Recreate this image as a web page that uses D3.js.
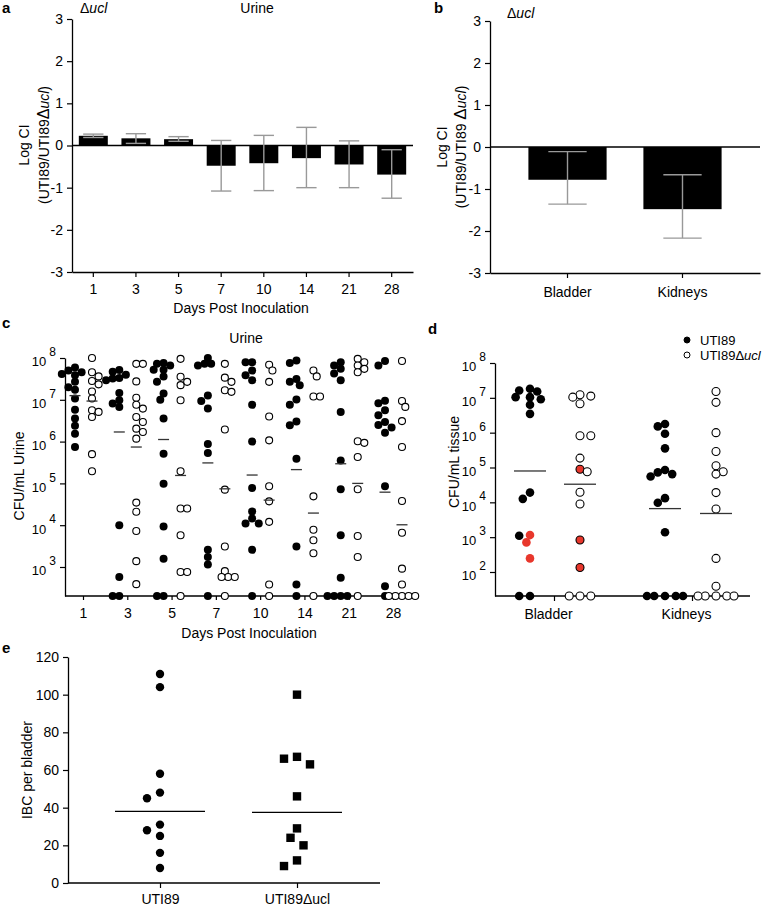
<!DOCTYPE html>
<html><head><meta charset="utf-8">
<script src="https://cdn.jsdelivr.net/npm/d3@7"></script>
<style>
body{margin:0;background:#fff;}
svg{display:block;font-family:"Liberation Sans",Arial,Helvetica,sans-serif;}
</style></head><body>
<svg id="fig" width="766" height="908"></svg>
<script>
// ---------- Panel a: urine competitive index ----------
const days = ["1","3","5","7","10","14","21","28"];
const urineCI = [0.23, 0.17, 0.15, -0.48, -0.42, -0.30, -0.45, -0.69];
const urineErrLow = [0.19, 0.05, 0.10, -1.08, -1.07, -1.00, -1.00, -1.25];
const urineErrHigh = [0.27, 0.28, 0.21, 0.12, 0.24, 0.43, 0.11, -0.10];
const ciTicks = [-3, -2, -1, 0, 1, 2, 3];

// ---------- Panel b: organ competitive index ----------
const organs = ["Bladder", "Kidneys"];
const organCI = [-0.78, -1.48];
const organErrLow = [-1.36, -2.17];
const organErrHigh = [-0.11, -0.66];

// ---------- Panel c: urine CFU (log10 CFU/mL), per day ----------
const urineLOD = 2.306;
const urineWT = [
  [7.77,7.70,7.66,7.62,7.59,7.43,7.30,7.24,7.03,6.76,6.55,6.38,6.19,5.87],
  [7.71,7.67,7.60,7.52,7.51,7.47,7.16,6.99,6.91,6.83,4.00,2.76,2.306,2.306],
  [7.88,7.86,7.82,7.72,7.72,7.56,7.43,7.15,7.00,6.55,5.71,4.99,3.97,3.20,2.306,2.306],
  [8.00,7.86,7.86,7.82,7.10,6.97,6.79,5.94,5.73,3.41,3.24,3.06,2.306],
  [7.90,7.90,7.70,7.59,7.47,6.88,6.00,4.89,4.33,4.16,4.04,4.04,3.41,2.306],
  [7.94,7.88,7.50,7.43,7.35,7.01,6.88,6.48,6.39,5.59,3.49,2.58,2.306],
  [7.90,7.82,7.74,7.63,7.47,6.71,5.55,4.86,3.76,2.74,2.306,2.306,2.306,2.306],
  [7.93,7.82,6.98,6.92,6.75,6.63,6.47,6.40,6.34,6.21,4.93,2.54,2.306]
];
const urineMut = [
  [8.00,7.66,7.56,7.45,7.37,7.20,7.03,6.75,6.71,6.59,5.70,5.29],
  [7.86,7.86,7.44,7.05,6.88,6.79,6.59,6.47,6.31,6.23,6.07,4.54,4.32,3.86,3.14,2.59],
  [7.98,7.55,7.43,7.35,6.99,5.29,4.40,4.40,3.76,2.88,2.88,2.306],
  [7.86,7.53,7.43,7.23,7.19,6.29,4.85,3.49,2.90,2.76,2.76,2.76,2.306],
  [7.84,7.70,7.43,6.60,6.03,4.93,4.57,4.08,2.58,2.306],
  [7.70,7.56,7.08,7.08,4.69,3.89,3.64,3.33,2.306],
  [7.98,7.90,7.82,7.74,7.66,6.01,5.97,5.63,4.86,3.74,3.24,2.306],
  [7.93,6.97,6.83,6.49,5.87,4.58,3.82,2.96,2.58,2.306,2.306,2.306,2.306,2.306]
];
const urineWTMedian = [7.10, 6.23, 6.05, 5.49, 5.20, 5.33, 5.47, 4.79];
const urineMutMedian = [6.97, 5.87, 5.19, 4.87, 4.60, 4.29, 5.00, 4.01];
const cfuExponentsC = [3, 4, 5, 6, 7, 8];

// ---------- Panel d: tissue CFU (log10 CFU/mL) ----------
const tissueLOD = 1.311;
const bladderWT = [7.26,7.21,7.18,7.02,7.02,6.96,6.80,6.54,4.28,4.10,3.04,1.311,1.311];
const bladderWTRed = [3.06, 2.85, 2.39];
const bladderMut = [7.09,7.05,7.02,6.83,5.91,5.91,5.27,4.88,4.29,3.95,1.311,1.311,1.311];
const bladderMutRed = [4.95, 2.92, 2.13];
const kidneyWT = [6.25,6.18,5.97,5.55,4.93,4.86,4.81,4.74,4.12,3.99,3.14,1.311,1.311,1.311,1.311,1.311];
const kidneyMut = [7.18,6.87,6.00,5.46,5.05,4.88,4.81,4.28,3.81,2.39,1.59,1.311,1.311,1.311,1.311,1.311];
const tissueMedianWT = [4.90, 3.82];
const tissueMedianMut = [4.52, 3.68];
const cfuExponentsD = [2, 3, 4, 5, 6, 7, 8];
const legendLabels = ["UTI89", "UTI89Δucl"];

// ---------- Panel e: IBC per bladder ----------
const strains = ["UTI89", "UTI89Δucl"];
const ibcWT = [111, 104, 58, 48, 45, 31, 28, 25, 16, 8];
const ibcMut = [100, 67, 66, 63, 46, 29, 24, 20, 12, 9];
const ibcCenter = [38, 37.5];
const ibcTicks = [0, 20, 40, 60, 80, 100, 120];

// =====================================================
const svg = d3.select("#fig");
const TICKF = 13, TITLEF = 14;
const GREY = "#999";

function styleAxis(g) {
  g.selectAll("path.domain").attr("stroke", "#000").attr("stroke-width", 1.3);
  g.selectAll(".tick line").attr("stroke", "#000").attr("stroke-width", 1.2);
  g.selectAll(".tick text").attr("font-size", TICKF).attr("fill", "#000")
    .attr("font-family", '"Liberation Sans",Arial,sans-serif');
}
function letter(t, x, y) {
  svg.append("text").attr("x", x).attr("y", y).attr("font-weight", "bold")
    .attr("font-size", 15).text(t);
}
function dUcl(textSel, big) {
  textSel.append("tspan").text("Δ").attr("font-size", big || null);
  textSel.append("tspan").attr("font-style", "italic").text("ucl");
}
function vTitle(x, y, builder) {
  const t = svg.append("text").attr("transform", `translate(${x},${y}) rotate(-90)`)
    .attr("text-anchor", "middle").attr("dy", "0.35em").attr("font-size", TITLEF);
  builder(t);
  return t;
}
function powLabels(g) {
  g.selectAll(".tick text").each(function (d) {
    const t = d3.select(this);
    t.text(null).attr("dy", null);
    t.append("tspan").attr("dy", "0.6em").text("10");
    t.append("tspan").attr("dx", 3).attr("dy", "-0.85em").attr("font-size", 12)
      .text(Math.round(Math.log10(d)));
  });
}
// simple beeswarm: returns x offsets so that markers avoid overlap
function swarm(vals, ypx, cx, minDist, step, maxK, prefLeft) {
  const placed = [];
  const order = vals.map((v, i) => i).sort((a, b) => vals[b] - vals[a]);
  order.forEach(i => {
    const y = ypx(vals[i]);
    let chosen = null, bestX = cx, bestD = -1;
    for (let k = 0; k <= maxK && chosen === null; k++) {
      const sgns = k === 0 ? [0] : (prefLeft ? [-1, 1] : [1, -1]);
      for (const s of sgns) {
        const x = cx + s * k * step;
        let md = Infinity;
        placed.forEach(p => { md = Math.min(md, Math.hypot(p.x - x, p.y - y)); });
        if (md >= minDist) { chosen = x; break; }
        if (md > bestD) { bestD = md; bestX = x; }
      }
    }
    placed.push({ x: chosen === null ? bestX : chosen, y, v: vals[i] });
  });
  return placed;
}

// ================= Panel a =================
{
  const x = d3.scaleBand().domain(days).range([72, 413]).paddingInner(0.32).paddingOuter(0.16);
  const y = d3.scaleLinear().domain([-3, 3]).range([272, 19]);
  const g = svg.append("g");
  g.selectAll("rect.bar").data(days).join("rect")
    .attr("x", d => x(d)).attr("width", x.bandwidth())
    .attr("y", (d, i) => y(Math.max(0, urineCI[i])))
    .attr("height", (d, i) => Math.abs(y(urineCI[i]) - y(0)))
    .attr("fill", "#000");
  g.append("line").attr("x1", 72).attr("x2", 413).attr("y1", y(0)).attr("y2", y(0))
    .attr("stroke", "#000").attr("stroke-width", 1.3);
  const cw = x.bandwidth() * 0.7;
  days.forEach((d, i) => {
    const cx = x(d) + x.bandwidth() / 2;
    const e = g.append("g").attr("stroke", GREY).attr("stroke-width", 1.4);
    e.append("line").attr("x1", cx).attr("x2", cx).attr("y1", y(urineErrLow[i])).attr("y2", y(urineErrHigh[i]));
    [urineErrLow[i], urineErrHigh[i]].forEach(v =>
      e.append("line").attr("x1", cx - cw / 2).attr("x2", cx + cw / 2).attr("y1", y(v)).attr("y2", y(v)));
  });
  const ya = svg.append("g").attr("transform", "translate(72,0)")
    .call(d3.axisLeft(y).tickValues(ciTicks).tickFormat(d => String(d)).tickSize(5).tickSizeOuter(0).tickPadding(4));
  styleAxis(ya);
  ya.selectAll(".tick text").attr("font-size", 14);
  const xa = svg.append("g").attr("transform", "translate(0,272)")
    .call(d3.axisBottom(x).tickSize(5).tickSizeOuter(0).tickPadding(7));
  styleAxis(xa);
  xa.selectAll(".tick text").attr("font-size", 14);
  letter("a", 2, 13);
  const t1 = svg.append("text").attr("x", 80).attr("y", 13).attr("font-size", TITLEF);
  dUcl(t1);
  svg.append("text").attr("x", 257).attr("y", 13).attr("text-anchor", "middle").attr("font-size", TITLEF).text("Urine");
  vTitle(24, 145, t => t.text("Log CI"));
  vTitle(44, 145, t => { t.append("tspan").text("(UTI89/UTI89"); dUcl(t, 16); t.append("tspan").text(")"); });
  svg.append("text").attr("x", 241).attr("y", 313).attr("text-anchor", "middle").attr("font-size", TITLEF)
    .text("Days Post Inoculation");
}

// ================= Panel b =================
{
  const x = d3.scaleBand().domain(organs).range([490, 760]).paddingInner(0.32).paddingOuter(0.334);
  const y = d3.scaleLinear().domain([-3, 3]).range([273, 21]);
  const g = svg.append("g");
  g.selectAll("rect.bar").data(organs).join("rect")
    .attr("x", d => x(d)).attr("width", x.bandwidth())
    .attr("y", (d, i) => y(Math.max(0, organCI[i])))
    .attr("height", (d, i) => Math.abs(y(organCI[i]) - y(0)))
    .attr("fill", "#000");
  g.append("line").attr("x1", 490).attr("x2", 760).attr("y1", y(0)).attr("y2", y(0))
    .attr("stroke", "#000").attr("stroke-width", 1.3);
  const cw = x.bandwidth() * 0.49;
  organs.forEach((d, i) => {
    const cx = x(d) + x.bandwidth() / 2;
    const e = g.append("g").attr("stroke", GREY).attr("stroke-width", 1.4);
    e.append("line").attr("x1", cx).attr("x2", cx).attr("y1", y(organErrLow[i])).attr("y2", y(organErrHigh[i]));
    [organErrLow[i], organErrHigh[i]].forEach(v =>
      e.append("line").attr("x1", cx - cw / 2).attr("x2", cx + cw / 2).attr("y1", y(v)).attr("y2", y(v)));
  });
  const ya = svg.append("g").attr("transform", "translate(490,0)")
    .call(d3.axisLeft(y).tickValues(ciTicks).tickFormat(d => String(d)).tickSize(5).tickSizeOuter(0).tickPadding(4));
  styleAxis(ya);
  ya.selectAll(".tick text").attr("font-size", 14);
  const xa = svg.append("g").attr("transform", "translate(0,273)")
    .call(d3.axisBottom(x).tickSize(5).tickSizeOuter(0).tickPadding(9));
  styleAxis(xa);
  xa.selectAll(".tick text").attr("font-size", 14);
  letter("b", 434, 13);
  const t1 = svg.append("text").attr("x", 507).attr("y", 18).attr("font-size", TITLEF);
  dUcl(t1);
  vTitle(442, 147, t => t.text("Log CI"));
  vTitle(461, 147, t => { t.append("tspan").text("(UTI89/UTI89 "); dUcl(t, 17); t.append("tspan").text(")"); });
}

// ================= Panel c =================
{
  const y = d3.scaleLog().domain([10 ** urineLOD, 1e8]).range([596, 358]);
  const ypx = v => y(10 ** v);
  const x = d3.scalePoint().domain(days).range([83, 393]);
  const ya = svg.append("g").attr("transform", "translate(65,0)")
    .call(d3.axisLeft(y).tickValues(cfuExponentsC.map(e => 10 ** e)).tickSize(5).tickSizeOuter(0).tickPadding(4));
  styleAxis(ya);
  powLabels(ya);
  const xa = svg.append("g").attr("transform", "translate(0,596)")
    .call(d3.axisBottom(x).tickSize(4).tickSizeOuter(0).tickPadding(8));
  styleAxis(xa);
  xa.selectAll(".tick text").attr("font-size", 14);
  xa.select("path.domain").remove();
  xa.append("line").attr("x1", 65).attr("x2", 413).attr("stroke", "#000").attr("stroke-width", 1.3);

  const pts = svg.append("g");
  days.forEach((d, i) => {
    const cF = x(d) - 8, cO = x(d) + 9;
    swarm(urineWT[i], ypx, cF, 6.5, 3.3, 4, true).forEach(p =>
      pts.append("circle").attr("cx", p.x).attr("cy", p.y).attr("r", 4).attr("fill", "#000"));
    swarm(urineMut[i], ypx, cO, 6.5, 3.3, 4, false).forEach(p =>
      pts.append("circle").attr("cx", p.x).attr("cy", p.y).attr("r", 3.5)
        .attr("fill", "#fff").attr("stroke", "#000").attr("stroke-width", 1.1));
    [[cF, urineWTMedian[i]], [cO, urineMutMedian[i]]].forEach(([c, m]) =>
      pts.append("line").attr("x1", c - 5.5).attr("x2", c + 5.5).attr("y1", ypx(m)).attr("y2", ypx(m))
        .attr("stroke", "#333").attr("stroke-width", 1.3));
  });
  letter("c", 2, 328);
  svg.append("text").attr("x", 246).attr("y", 343).attr("text-anchor", "middle").attr("font-size", TITLEF).text("Urine");
  vTitle(19, 476, t => t.text("CFU/mL Urine"));
  svg.append("text").attr("x", 249).attr("y", 638).attr("text-anchor", "middle").attr("font-size", TITLEF)
    .text("Days Post Inoculation");
}

// ================= Panel d =================
{
  const y = d3.scaleLog().domain([10 ** tissueLOD, 1e8]).range([596, 363]);
  const ypx = v => y(10 ** v);
  const x = d3.scalePoint().domain(organs).range([554, 692]);
  const ya = svg.append("g").attr("transform", "translate(495,0)")
    .call(d3.axisLeft(y).tickValues(cfuExponentsD.map(e => 10 ** e)).tickSize(5).tickSizeOuter(0).tickPadding(4));
  styleAxis(ya);
  powLabels(ya);
  const xa = svg.append("g").attr("transform", "translate(0,596)")
    .call(d3.axisBottom(x).tickSize(5).tickSizeOuter(0).tickPadding(8));
  styleAxis(xa);
  xa.selectAll(".tick text").attr("dx", -6).attr("font-size", 14);
  xa.select("path.domain").remove();
  xa.append("line").attr("x1", 495).attr("x2", 750).attr("stroke", "#000").attr("stroke-width", 1.3);

  const RED = "#e8372c";
  const pts = svg.append("g");
  const groups = [
    { c: x("Bladder") - 24, black: bladderWT, red: bladderWTRed, open: false, med: tissueMedianWT[0] },
    { c: x("Bladder") + 26, black: bladderMut, red: bladderMutRed, open: true, med: tissueMedianMut[0] },
    { c: x("Kidneys") - 27, black: kidneyWT, red: [], open: false, med: tissueMedianWT[1] },
    { c: x("Kidneys") + 24, black: kidneyMut, red: [], open: true, med: tissueMedianMut[1] }
  ];
  groups.forEach(gp => {
    const all = gp.black.concat(gp.red);
    const isRed = gp.black.map(() => false).concat(gp.red.map(() => true));
    const placed = swarm(all, ypx, gp.c, 7.5, 3.6, 5, !gp.open);
    const used = isRed.map(() => false);
    placed.forEach(p => {
      let idx = all.findIndex((v, k) => !used[k] && v === p.v);
      used[idx] = true;
      const red = isRed[idx];
      const c = pts.append("circle").attr("cx", p.x).attr("cy", p.y);
      if (!gp.open) {
        c.attr("r", 4.3).attr("fill", red ? RED : "#000");
      } else if (red) {
        c.attr("r", 4).attr("fill", RED).attr("stroke", "#000").attr("stroke-width", 1.1);
      } else {
        c.attr("r", 4).attr("fill", "#fff").attr("stroke", "#000").attr("stroke-width", 1.1);
      }
    });
    pts.append("line").attr("x1", gp.c - 16).attr("x2", gp.c + 16).attr("y1", ypx(gp.med)).attr("y2", ypx(gp.med))
      .attr("stroke", "#333").attr("stroke-width", 1.3);
  });
  letter("d", 428, 334);
  vTitle(454, 462, t => t.text("CFU/mL tissue"));
  // legend
  const lg = svg.append("g");
  legendLabels.forEach((lab, i) => {
    const yy = 340 + i * 15;
    lg.append("circle").attr("cx", 687).attr("cy", yy).attr("r", 3)
      .attr("fill", i === 0 ? "#000" : "#fff").attr("stroke", "#000").attr("stroke-width", 1);
    const t = lg.append("text").attr("x", 700).attr("y", yy).attr("dy", "0.35em").attr("font-size", 13);
    if (i === 0) t.text(lab);
    else { t.append("tspan").text("UTI89"); dUcl(t); }
  });
}

// ================= Panel e =================
{
  const y = d3.scaleLinear().domain([0, 120]).range([883, 657]);
  const x = d3.scalePoint().domain(strains).range([160, 297]);
  const ya = svg.append("g").attr("transform", "translate(68,0)")
    .call(d3.axisLeft(y).tickValues(ibcTicks).tickSize(5).tickSizeOuter(0).tickPadding(4));
  styleAxis(ya);
  ya.selectAll(".tick text").attr("font-size", 14);
  const xa = svg.append("g").attr("transform", "translate(0,883)")
    .call(d3.axisBottom(x).tickSize(5).tickSizeOuter(0).tickPadding(6));
  styleAxis(xa);
  xa.selectAll(".tick text").attr("font-size", 14);
  xa.select("path.domain").remove();
  xa.append("line").attr("x1", 68).attr("x2", 380).attr("stroke", "#000").attr("stroke-width", 1.3);
  const pts = svg.append("g");
  swarm(ibcWT, y, x(strains[0]), 10, 6.5, 4, true).forEach(p =>
    pts.append("circle").attr("cx", p.x).attr("cy", p.y).attr("r", 4.2).attr("fill", "#000"));
  swarm(ibcMut, y, x(strains[1]), 10, 6.5, 4, true).forEach(p =>
    pts.append("rect").attr("x", p.x - 4.2).attr("y", p.y - 4.2).attr("width", 8.4).attr("height", 8.4).attr("fill", "#000"));
  strains.forEach((s, i) =>
    pts.append("line").attr("x1", x(s) - 45).attr("x2", x(s) + 45).attr("y1", y(ibcCenter[i])).attr("y2", y(ibcCenter[i]))
      .attr("stroke", "#000").attr("stroke-width", 1.2));
  letter("e", 2, 653);
  vTitle(27, 770, t => t.text("IBC per bladder"));
}
</script>
</body></html>
